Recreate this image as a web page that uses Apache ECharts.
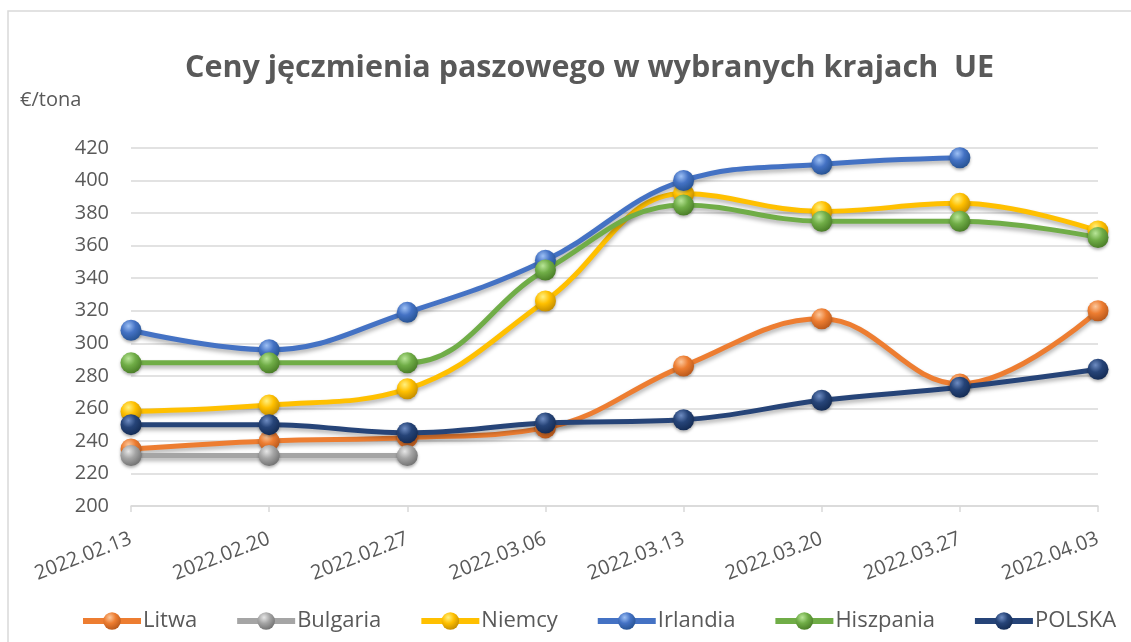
<!DOCTYPE html>
<html>
<head>
<meta charset="utf-8">
<script src="https://cdn.jsdelivr.net/npm/echarts@6/dist/echarts.min.js"></script>
<style>
  html, body { margin: 0; padding: 0; background: #fff; }
  #chart { width: 1131px; height: 642px; }
</style>
</head>
<body>
<div id="chart"></div>
<script>
// dane
const categories = ['2022.02.13', '2022.02.20', '2022.02.27', '2022.03.06', '2022.03.13', '2022.03.20', '2022.03.27', '2022.04.03']
const litwa = [235, 240, 242, 248, 286, 315, 275, 320]
const bulgaria = [231, 231, 231, null, null, null, null, null]
const niemcy = [258, 262, 272, 326, 392, 381, 386, 369]
const irlandia = [308, 296, 319, 351, 400, 410, 414, null]
const hiszpania = [288, 288, 288, 345, 385, 375, 375, 365]
const polska = [250, 250, 245, 251, 253, 265, 273, 284]

const seriesDefs = [
  { name: 'Litwa', data: litwa, color: '#ED7D31', light: '#FBC79C', dark: '#B5561A' },
  { name: 'Bulgaria', data: bulgaria, color: '#A5A5A5', light: '#E6E6E6', dark: '#6E6E6E' },
  { name: 'Niemcy', data: niemcy, color: '#FFC000', light: '#FFF080', dark: '#C08A00' },
  { name: 'Irlandia', data: irlandia, color: '#4472C4', light: '#9DC0F5', dark: '#24508F' },
  { name: 'Hiszpania', data: hiszpania, color: '#70AD47', light: '#B8E597', dark: '#477A25' },
  { name: 'POLSKA', data: polska, color: '#264478', light: '#6E8CC2', dark: '#132A52' }
]

const chart = echarts.init(document.getElementById('chart'))

// kulki jak w Excelu
const sphere = (s) => new echarts.graphic.RadialGradient(0.38, 0.3, 0.75, [
  { offset: 0, color: s.light },
  { offset: 0.45, color: s.color },
  { offset: 1, color: s.dark }
])

const option = {
  backgroundColor: '#fff',
  graphic: [
    {
      type: 'rect',
      shape: { x: 8, y: 11, width: 1140, height: 660 },
      style: { fill: 'none', stroke: '#D9D9D9', lineWidth: 1.5 },
      silent: true
    }
  ],
  title: {
    text: 'Ceny jęczmienia paszowego w wybranych krajach  UE',
    left: 180,
    top: 48,
    textStyle: {
      fontFamily: 'Open Sans',
      fontWeight: 'bold',
      fontSize: 30.5,
      color: '#595959'
    }
  },
  legend: {
    bottom: 5,
    left: 75,
    itemWidth: 58,
    itemHeight: 22,
    itemGap: 37,
    lineStyle: { width: 6 },
    textStyle: { fontFamily: 'Open Sans', fontSize: 22, color: '#595959', padding: [0, 0, 0, -3] },
    data: seriesDefs.map(s => s.name)
  },
  grid: {
    left: 131,
    right: 33,
    top: 148,
    bottom: 136
  },
  xAxis: {
    type: 'category',
    data: categories,
    boundaryGap: false,
    axisLine: { lineStyle: { color: '#D9D9D9', width: 1.5 } },
    axisTick: { show: true, length: 6, alignWithLabel: true, lineStyle: { color: '#D9D9D9', width: 1.5 } },
    axisLabel: {
      rotate: 21,
      margin: 32,
      interval: 0,
      fontFamily: 'Open Sans',
      fontSize: 20,
      color: '#595959'
    }
  },
  yAxis: {
    type: 'value',
    min: 200,
    max: 420,
    interval: 20,
    name: '€/tona',
    nameLocation: 'end',
    nameGap: 38,
    nameTextStyle: { fontFamily: 'Open Sans', fontSize: 20, color: '#595959', align: 'left', padding: [0, 0, 0, -111] },
    axisLine: { show: false },
    axisTick: { show: false },
    axisLabel: { fontFamily: 'Open Sans', fontSize: 20, color: '#595959', margin: 22 },
    splitLine: { lineStyle: { color: '#D9D9D9', width: 1.5 } }
  },
  series: seriesDefs.map(s => ({
    name: s.name,
    type: 'line',
    data: s.data,
    smooth: 0.4,
    symbol: 'circle',
    symbolSize: 21,
    connectNulls: false,
    lineStyle: {
      color: s.color,
      width: 5,
      shadowColor: 'rgba(0,0,0,0.3)',
      shadowBlur: 4,
      shadowOffsetY: 3
    },
    itemStyle: {
      color: sphere(s),
      borderWidth: 0,
      shadowColor: 'rgba(0,0,0,0.3)',
      shadowBlur: 3,
      shadowOffsetY: 2
    },
    emphasis: { disabled: true }
  }))
}

chart.setOption(option)
</script>
</body>
</html>
